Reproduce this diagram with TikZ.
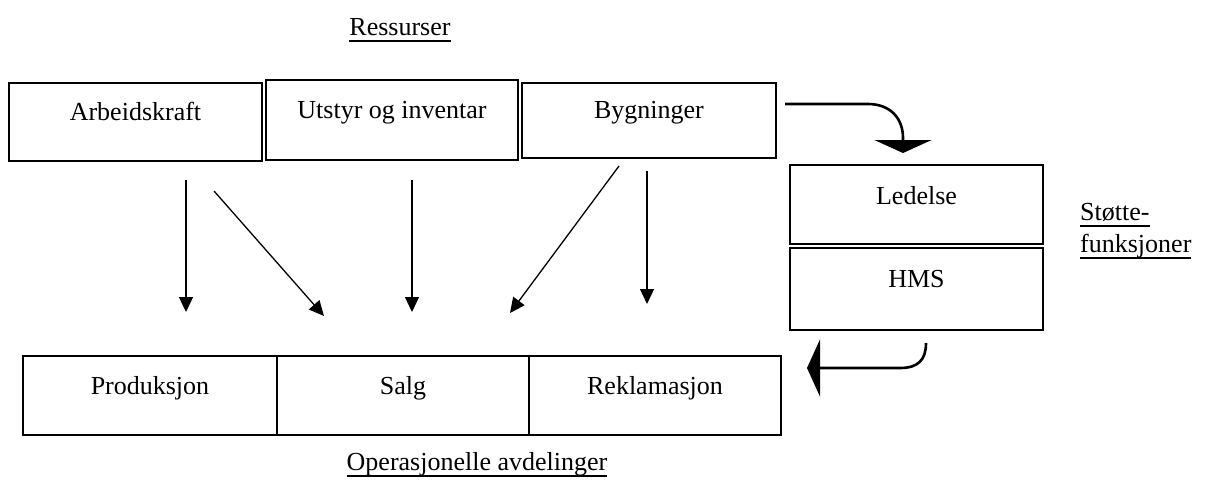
\documentclass[tikz,border=0pt]{standalone}
\usepackage{fontspec}
\setmainfont{Liberation Serif}
\usetikzlibrary{arrows.meta}
% underline drawn as a rule of chosen thickness below the text
\newcommand\headul[1]{\setbox0\hbox{#1}\rlap{\copy0}\rule[-6.5pt]{\wd0}{1.4pt}}
\begin{document}
\begin{tikzpicture}[x=1pt,y=-1pt,
  box/.style={draw, line width=2.4pt, inner sep=0pt, anchor=base,
              font=\fontsize{26}{30}\selectfont},
  flow/.style={line width=1.3pt, -{Triangle[length=15pt,width=14pt]}},
  turn/.style={line width=2.6pt, -{Triangle[length=13pt,width=57pt]}},
  heading/.style={font=\fontsize{26}{30}\selectfont, inner sep=0pt}]
\useasboundingbox (0,0) rectangle (1212,499);

% resources
\node[heading, anchor=base] (res) at (400,35) {\headul{Ressurser}};
\node[box, minimum width=253pt, text height=37pt, text depth=41pt] (arb) at (135.5,120) {Arbeidskraft};
\node[box, minimum width=252pt, text height=38pt, text depth=42pt] (uts) at (392,118) {Utstyr og inventar};
\node[box, minimum width=254pt, text height=35pt, text depth=40pt] (byg) at (649,118) {Bygninger};

% operational departments
\node[box, minimum width=254pt, text height=38pt, text depth=41pt] (pro) at (150,394) {Produksjon};
\node[box, minimum width=252pt, text height=38pt, text depth=41pt] (sal) at (403,394) {Salg};
\node[box, minimum width=252pt, text height=38pt, text depth=41pt] (rek) at (655,394) {Reklamasjon};
\node[heading, anchor=base] (ops) at (477,470) {\headul{Operasjonelle avdelinger}};

% support functions
\node[box, minimum width=253pt, text height=39pt, text depth=40pt] (led) at (916.5,204) {Ledelse};
\node[box, minimum width=253pt, text height=39pt, text depth=43pt] (hms) at (916.5,287) {HMS};
\node[heading, anchor=base west] (st1) at (1080,220) {\headul{Støtte-}};
\node[heading, anchor=base west] (st2) at (1080,252) {\headul{funksjoner}};

% arrow ends
\coordinate (a1s) at (186,180);  \coordinate (a1e) at (186,312);
\coordinate (a2s) at (214,191);  \coordinate (a2e) at (324,316);
\coordinate (a3s) at (412,180);  \coordinate (a3e) at (412,312);
\coordinate (a4s) at (619,166);  \coordinate (a4e) at (510,313);
\coordinate (a5s) at (647,171);  \coordinate (a5e) at (647,304);
\coordinate (t0) at (785,104);   \coordinate (t1) at (903,153);
\coordinate (b0) at (926,343);   \coordinate (b1) at (807,368);

% resources flowing to departments
\draw[flow] (a1s) -- (a1e);
\draw[flow] (a2s) -- (a2e);
\draw[flow] (a3s) -- (a3e);
\draw[flow] (a4s) -- (a4e);
\draw[flow] (a5s) -- (a5e);

% bent arrows around the support functions
\draw[turn] (t0) -- (868,104) .. controls (890,104) and (903,118) .. (903,138) -- (t1);
\draw[turn] (b0) .. controls (926,360) and (918,368) .. (900,368) -- (b1);
\end{tikzpicture}
\end{document}
